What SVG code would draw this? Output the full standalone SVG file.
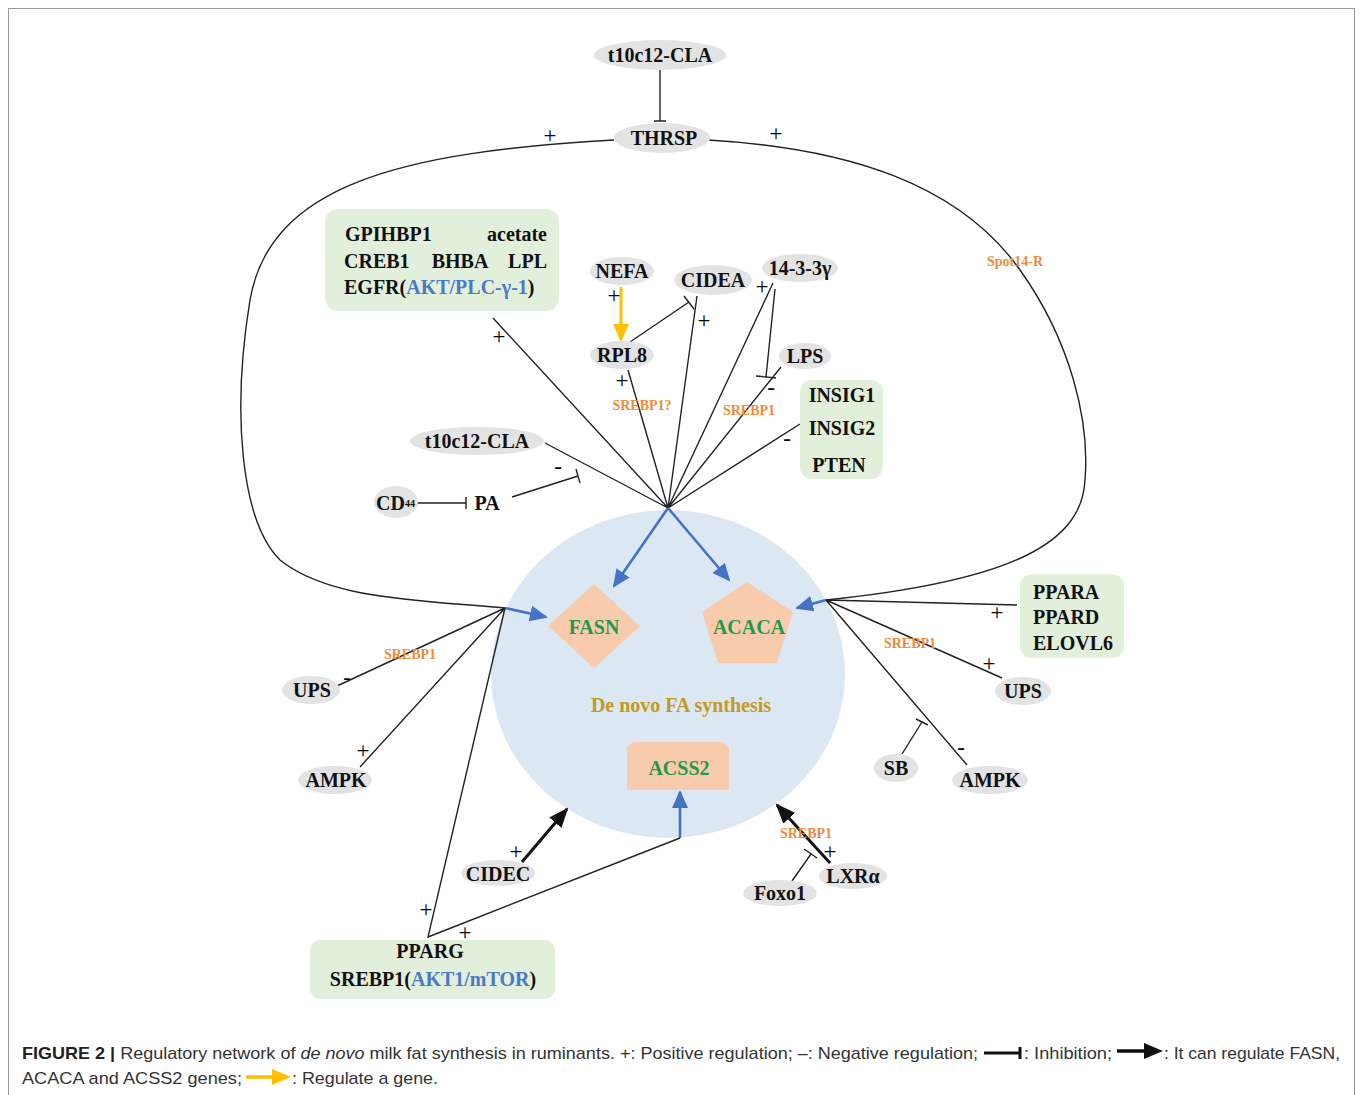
<svg xmlns="http://www.w3.org/2000/svg" width="1360" height="1095" viewBox="0 0 1360 1095">
<style>
.n{font-family:"Liberation Serif","DejaVu Serif",serif;font-weight:bold;font-size:20px;fill:#111;text-anchor:middle;dominant-baseline:central}
.nl{font-family:"Liberation Serif","DejaVu Serif",serif;font-weight:bold;font-size:20px;fill:#111;dominant-baseline:central}
.el{fill:#e3e3e3}
.bx{fill:#e2efda}
.gene{font-family:"Liberation Serif","DejaVu Serif",serif;font-weight:bold;font-size:20px;fill:#1e9a4a;text-anchor:middle;dominant-baseline:central}
.sh{fill:#f8cbad}
.or{font-family:"Liberation Serif","DejaVu Serif",serif;font-weight:bold;font-size:14px;fill:#ed8a3c;text-anchor:middle;dominant-baseline:central}
.sg{font-family:"Liberation Serif","DejaVu Serif",serif;font-size:23px;fill:#000;text-anchor:middle;dominant-baseline:central}
.ln{stroke:#222;stroke-width:1.4;fill:none}
.ba{stroke:#4472c4;stroke-width:2.6;fill:none}
.ka{stroke:#111;stroke-width:3;fill:none}
.cap{font-family:"Liberation Sans","Arial",sans-serif;font-size:17px;fill:#333}
</style>
<defs>
<marker id="mb" markerWidth="18" markerHeight="16" refX="16" refY="8" orient="auto" markerUnits="userSpaceOnUse"><path d="M0,0 L18,8 L0,16 z" fill="#4472c4"/></marker>
<marker id="mk" markerWidth="20" markerHeight="16" refX="18" refY="8" orient="auto" markerUnits="userSpaceOnUse"><path d="M0,0 L20,8 L0,16 z" fill="#111"/></marker>
<marker id="mo" markerWidth="18" markerHeight="16" refX="16" refY="8" orient="auto" markerUnits="userSpaceOnUse"><path d="M0,0 L18,8 L0,16 z" fill="#ffc000"/></marker>
</defs>
<rect x="0" y="0" width="1360" height="1095" fill="#fff"/>
<rect x="8.5" y="8.5" width="1346" height="1100" fill="none" stroke="#999" stroke-width="1"/>

<g id="circle">
<ellipse cx="668" cy="674" rx="177" ry="164" fill="#dce7f4"/>
<text x="681" y="705" class="n" style="fill:#c49a1c">De novo FA synthesis</text>
</g>

<g id="connectors">
<path class="ln" d="M614,140 C400,152 270,185 250,300 C232,410 240,520 280,560 C330,600 420,600 505,608"/>
<path class="ln" d="M708,140 C850,148 960,185 1020,270 C1070,340 1090,420 1085,480 C1082,540 1020,580 826,600"/>
<path class="ln" d="M660,70 L660,121 M654,121 L666,121"/>
<path class="ln" d="M668,508 L493,318 M668,508 L628,370 M668,508 L697,296 M668,508 L773,283 M668,508 L781,367 M668,508 L800,424 M668,508 L545,443"/>
<path class="ln" d="M630,342 L689,302 M684,296 L694,309"/>
<path class="ln" d="M775,289 L766,377 M756,376 L776,378"/>
<path class="ln" d="M512,497 L578,476 M576,469 L580,483"/>
<path class="ln" d="M417,503 L466,503 M466,497 L466,509"/>
<path d="M621,287 L621,340" stroke="#ffc000" stroke-width="3" fill="none" marker-end="url(#mo)"/>
<path class="ba" d="M668,508 L614,586" marker-end="url(#mb)"/>
<path class="ba" d="M668,508 L729,580" marker-end="url(#mb)"/>
<path class="ba" d="M505,608 L546,617" marker-end="url(#mb)"/>
<path class="ba" d="M826,600 L797,608" marker-end="url(#mb)"/>
<path class="ba" d="M680,838 L680,792" marker-end="url(#mb)"/>
<path class="ln" d="M505,608 L337,686 M505,608 L360,767 M505,608 L428,937 L680,838"/>
<path class="ln" d="M826,600 L1017,605 M826,600 L1002,678 M826,600 L967,765"/>
<path class="ln" d="M902,754 L922,722 M916,719 L928,725"/>
<path class="ka" d="M522,862 L567,809" marker-end="url(#mk)"/>
<path class="ka" d="M830,863 L777,805" marker-end="url(#mk)"/>
<path class="ln" d="M792,881 L811,854 M804,849 L817,858"/>
</g>

<g id="signs">
<text x="550" y="135" class="sg">+</text>
<text x="776" y="133" class="sg">+</text>
<text x="499" y="336" class="sg">+</text>
<text x="614" y="295" class="sg">+</text>
<text x="622" y="380" class="sg">+</text>
<text x="704" y="320" class="sg">+</text>
<text x="762" y="286" class="sg">+</text>
<text x="771" y="387" class="sg">-</text>
<text x="787" y="438" class="sg">-</text>
<text x="558" y="466" class="sg">-</text>
<text x="347" y="677" class="sg">-</text>
<text x="363" y="750" class="sg">+</text>
<text x="426" y="909" class="sg">+</text>
<text x="465" y="932" class="sg">+</text>
<text x="516" y="851" class="sg">+</text>
<text x="830" y="851" class="sg">+</text>
<text x="997" y="612" class="sg">+</text>
<text x="989" y="663" class="sg">+</text>
<text x="961" y="747" class="sg">-</text>
</g>

<g id="orange-labels">
<text x="642" y="405" class="or">SREBP1?</text>
<text x="749" y="410" class="or">SREBP1</text>
<text x="1015" y="261" class="or">Spot14-R</text>
<text x="410" y="654" class="or">SREBP1</text>
<text x="910" y="643" class="or">SREBP1</text>
<text x="806" y="833" class="or">SREBP1</text>
</g>

<g id="t10c12-CLA-top"><ellipse class="el" cx="660" cy="55" rx="66" ry="15"/><text x="660" y="55" class="n">t10c12-CLA</text></g>
<g id="THRSP"><ellipse class="el" cx="662" cy="138" rx="48" ry="15"/><text x="664" y="138" class="n">THRSP</text></g>

<g id="box-upper">
<rect class="bx" x="325" y="209" width="234" height="102" rx="13"/>
<text x="345" y="234" class="nl">GPIHBP1</text>
<text x="547" y="234" class="nl" style="text-anchor:end">acetate</text>
<text x="344" y="261" class="nl">CREB1</text>
<text x="460" y="261" class="n">BHBA</text>
<text x="547" y="261" class="nl" style="text-anchor:end">LPL</text>
<text x="344" y="287" class="nl">EGFR(<tspan style="fill:#4a7bc8">AKT/PLC-γ-1</tspan>)</text>
</g>

<g id="NEFA"><ellipse class="el" cx="622" cy="271" rx="32" ry="14"/><text x="622" y="271" class="n">NEFA</text></g>
<g id="CIDEA"><ellipse class="el" cx="713" cy="280" rx="39" ry="15"/><text x="713" y="280" class="n">CIDEA</text></g>
<g id="g14-3-3"><ellipse class="el" cx="800" cy="268" rx="38" ry="14"/><text x="800" y="268" class="n">14-3-3γ</text></g>
<g id="RPL8"><ellipse class="el" cx="622" cy="355" rx="32" ry="14"/><text x="622" y="355" class="n">RPL8</text></g>
<g id="LPS"><ellipse class="el" cx="805" cy="356" rx="26" ry="13"/><text x="805" y="356" class="n">LPS</text></g>

<g id="box-insig">
<rect class="bx" x="800" y="380" width="83" height="99" rx="12"/>
<text x="842" y="395" class="n">INSIG1</text>
<text x="842" y="428" class="n">INSIG2</text>
<text x="839" y="465" class="n">PTEN</text>
</g>

<g id="t10c12-CLA-mid"><ellipse class="el" cx="477" cy="441" rx="67" ry="14"/><text x="477" y="441" class="n">t10c12-CLA</text></g>
<g id="CD44"><ellipse class="el" cx="396" cy="502" rx="22" ry="16"/><text x="376" y="503" class="nl">CD<tspan font-size="10">44</tspan></text></g>
<g id="PA"><text x="487" y="503" class="n">PA</text></g>

<g id="FASN"><polygon class="sh" points="594,584 640,626 594,668 548,626"/><text x="594" y="627" class="gene">FASN</text></g>
<g id="ACACA"><polygon class="sh" points="747,582 793,612 777,663 718,663 702,612"/><text x="749" y="627" class="gene">ACACA</text></g>
<g id="ACSS2"><polygon class="sh" points="633,742 723,742 729,748 729,790 627,790 627,748"/><text x="679" y="768" class="gene">ACSS2</text></g>

<g id="box-ppara">
<rect class="bx" x="1020" y="574" width="104" height="84" rx="12"/>
<text x="1033" y="592" class="nl">PPARA</text>
<text x="1033" y="617" class="nl">PPARD</text>
<text x="1033" y="643" class="nl">ELOVL6</text>
</g>

<g id="UPS-left"><ellipse class="el" cx="311" cy="690" rx="29" ry="14"/><text x="312" y="690" class="n">UPS</text></g>
<g id="AMPK-left"><ellipse class="el" cx="335" cy="780" rx="37" ry="14"/><text x="336" y="780" class="n">AMPK</text></g>
<g id="UPS-right"><ellipse class="el" cx="1023" cy="691" rx="28" ry="14"/><text x="1023" y="691" class="n">UPS</text></g>
<g id="SB"><ellipse class="el" cx="896" cy="768" rx="22" ry="14"/><text x="896" y="768" class="n">SB</text></g>
<g id="AMPK-right"><ellipse class="el" cx="990" cy="780" rx="38" ry="14"/><text x="990" y="780" class="n">AMPK</text></g>
<g id="CIDEC"><ellipse class="el" cx="498" cy="873" rx="37" ry="13"/><text x="498" y="874" class="n">CIDEC</text></g>
<g id="LXRa"><ellipse class="el" cx="853" cy="876" rx="34" ry="13"/><text x="853" y="876" class="n">LXRα</text></g>
<g id="Foxo1"><ellipse class="el" cx="780" cy="893" rx="37" ry="13"/><text x="780" y="893" class="n">Foxo1</text></g>

<g id="box-pparg">
<rect class="bx" x="310" y="940" width="245" height="59" rx="10"/>
<text x="430" y="951" class="n">PPARG</text>
<text x="433" y="979" class="n">SREBP1(<tspan style="fill:#4a7bc8">AKT1/mTOR</tspan>)</text>
</g>

<g id="caption">
<text x="22" y="1059" class="cap" textLength="956" lengthAdjust="spacingAndGlyphs"><tspan font-weight="bold" fill="#222">FIGURE 2 |</tspan> Regulatory network of <tspan font-style="italic">de novo</tspan> milk fat synthesis in ruminants. +: Positive regulation; –: Negative regulation;</text>
<path d="M984,1053 L1020,1053 M1020,1047 L1020,1059" stroke="#111" stroke-width="3" fill="none"/>
<text x="1024" y="1059" class="cap" textLength="88" lengthAdjust="spacingAndGlyphs">: Inhibition;</text>
<path d="M1117,1051 L1146,1051" stroke="#111" stroke-width="3.5" fill="none"/>
<path d="M1144,1043 L1163,1051 L1144,1059 z" fill="#111"/>
<text x="1164" y="1059" class="cap" textLength="176" lengthAdjust="spacingAndGlyphs">: It can regulate FASN,</text>
<text x="22" y="1084" class="cap" textLength="220" lengthAdjust="spacingAndGlyphs">ACACA and ACSS2 genes;</text>
<path d="M246,1077 L274,1077" stroke="#ffc000" stroke-width="3.5" fill="none"/>
<path d="M272,1069 L291,1077 L272,1085 z" fill="#ffc000"/>
<text x="292" y="1084" class="cap" textLength="146" lengthAdjust="spacingAndGlyphs">: Regulate a gene.</text>
</g>
</svg>
